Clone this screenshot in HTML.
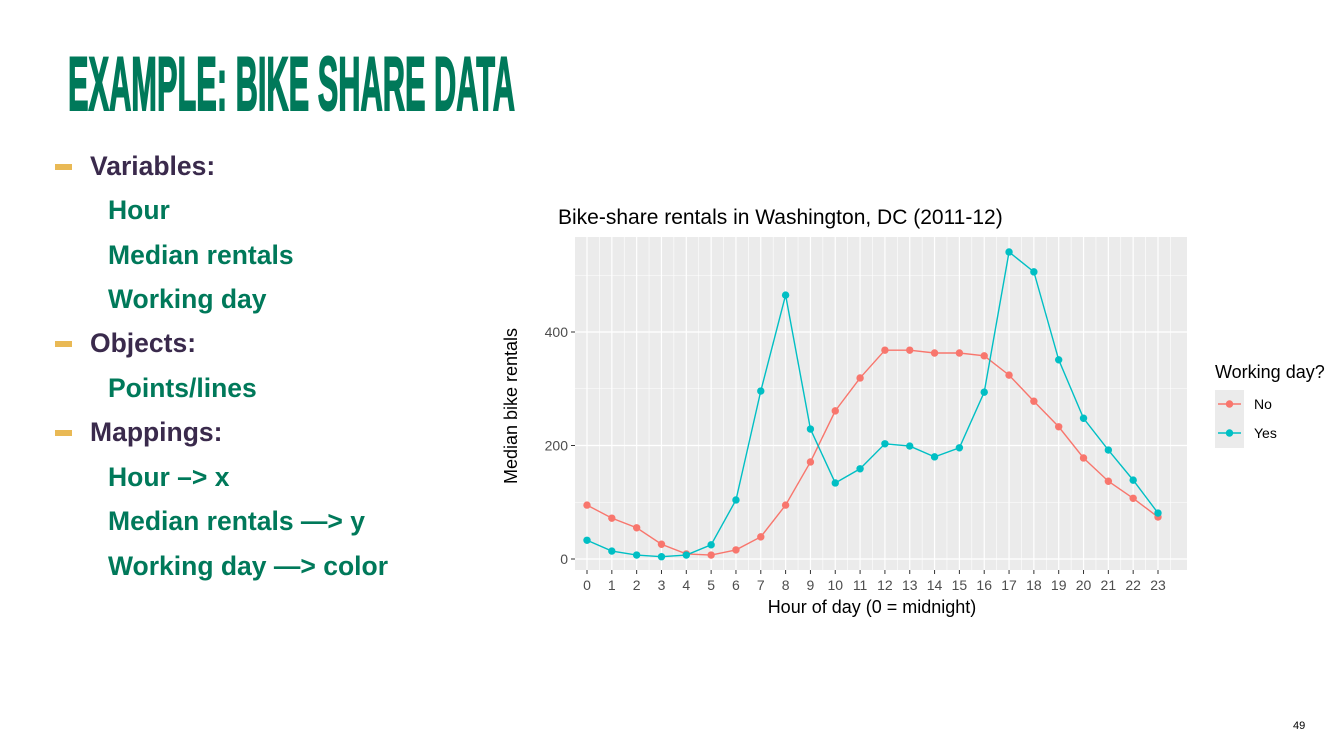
<!DOCTYPE html>
<html><head><meta charset="utf-8"><style>
body{margin:0;width:1325px;height:733px;background:#fff;overflow:hidden;position:relative;font-family:"Liberation Sans",sans-serif}
.b{position:absolute;font-weight:bold;font-size:26.5px;line-height:30px}
.p{color:#3a2a4c;left:90px}.g{color:#00795a;left:108px}
.d{position:absolute;left:55px;width:17px;height:6px;background:#e9b955}
</style></head><body>
<svg style="position:absolute;left:0;top:0" width="600" height="120"><text x="68" y="110" font-family="Liberation Sans Narrow,Liberation Sans,sans-serif" font-weight="bold" font-size="76" fill="#00795a" stroke="#00795a" stroke-width="2" textLength="447" lengthAdjust="spacingAndGlyphs">EXAMPLE: BIKE SHARE DATA</text></svg>
<div class="d" style="top:164px"></div>
<div class="b p" style="top:151px">Variables:</div>
<div class="b g" style="top:195px">Hour</div>
<div class="b g" style="top:240px">Median rentals</div>
<div class="b g" style="top:284px">Working day</div>
<div class="d" style="top:341px"></div>
<div class="b p" style="top:328px">Objects:</div>
<div class="b g" style="top:373px">Points/lines</div>
<div class="d" style="top:430px"></div>
<div class="b p" style="top:417px">Mappings:</div>
<div class="b g" style="top:462px">Hour –&gt; x</div>
<div class="b g" style="top:506px">Median rentals —&gt; y</div>
<div class="b g" style="top:551px">Working day —&gt; color</div>
<div style="position:absolute;left:1293px;top:720px;font-size:11px">49</div>
<svg id="c" style="position:absolute;left:0;top:0" width="1325" height="733"></svg>
<script>
const hours=[0,1,2,3,4,5,6,7,8,9,10,11,12,13,14,15,16,17,18,19,20,21,22,23];
const noVals=[95,72,55,26,9,7,16,39,95,171,261,319,368,368,363,363,358,324,278,233,178,137,107,74];
const yesVals=[33,14,7,4,7,25,104,296,465,229,134,159,203,199,180,196,294,541,506,351,248,192,139,81];
const yTicks=[0,200,400];
const svg=document.getElementById('c');const NS='http://www.w3.org/2000/svg';
const X=h=>587+h*(1158-587)/23, Y=v=>559-v*0.5675;
function el(t,a,p){const e=document.createElementNS(NS,t);for(const k in a)e.setAttribute(k,a[k]);(p||svg).appendChild(e);return e;}
const L=575,R=1187,T=237,B=570;
let bg=el('rect',{x:L,y:T,width:R-L,height:B-T,fill:'#ebebeb'});

for(let v=-100;v<=600;v+=100){const y=Y(v);if(y<T||y>B)continue;const mj=v%200===0;el('line',{x1:L,x2:R,y1:y,y2:y,stroke:'#fff','stroke-width':mj?1.2:0.6});}
for(let h=-0.5;h<=23.5;h+=0.5){const x=X(h);el('line',{x1:x,x2:x,y1:T,y2:B,stroke:'#fff','stroke-width':Number.isInteger(h)?1.2:0.6});}
yTicks.forEach(v=>{const y=Y(v);el('line',{x1:L-4,x2:L,y1:y,y2:y,stroke:'#333'});
const t=el('text',{x:L-7,y:y+5,'font-size':14,fill:'#4d4d4d','text-anchor':'end'});t.textContent=v;
});
hours.forEach(h=>{const x=X(h);el('line',{x1:x,x2:x,y1:B,y2:B+4,stroke:'#333'});
const t=el('text',{x:x,y:B+20,'font-size':14,fill:'#4d4d4d','text-anchor':'middle'});t.textContent=h;
});
function series(vals,col,name){const g=el('g',{});
el('polyline',{points:vals.map((v,i)=>X(hours[i])+','+Y(v)).join(' '),fill:'none',stroke:col,'stroke-width':1.4},g);
vals.forEach((v,i)=>{const c=el('circle',{cx:X(hours[i]),cy:Y(v),r:3.7,fill:col},g);});}
series(noVals,'#f8766d','series-no');series(yesVals,'#00bfc4','series-yes');
let t=el('text',{x:558,y:224,'font-size':21,fill:'#000'});t.textContent='Bike-share rentals in Washington, DC (2011-12)';
t=el('text',{x:872,y:613,'font-size':18,fill:'#000','text-anchor':'middle'});t.textContent='Hour of day (0 = midnight)';
t=el('text',{x:0,y:0,'font-size':18,fill:'#000','text-anchor':'middle',transform:'translate(517,406) rotate(-90)'});t.textContent='Median bike rentals';
t=el('text',{x:1215,y:378,'font-size':18,fill:'#000'});t.textContent='Working day?';
[['No','#f8766d',404],['Yes','#00bfc4',433]].forEach(([n,c,y])=>{const g=el('g',{});
el('rect',{x:1215,y:y-14,width:29,height:29,fill:'#ebebeb'},g);el('line',{x1:1218,x2:1241,y1:y,y2:y,stroke:c,'stroke-width':1.4},g);el('circle',{cx:1229.5,cy:y,r:3.7,fill:c},g);
const tt=el('text',{x:1254,y:y+5,'font-size':14,fill:'#000'},g);tt.textContent=n;});
</script>
</body></html>
